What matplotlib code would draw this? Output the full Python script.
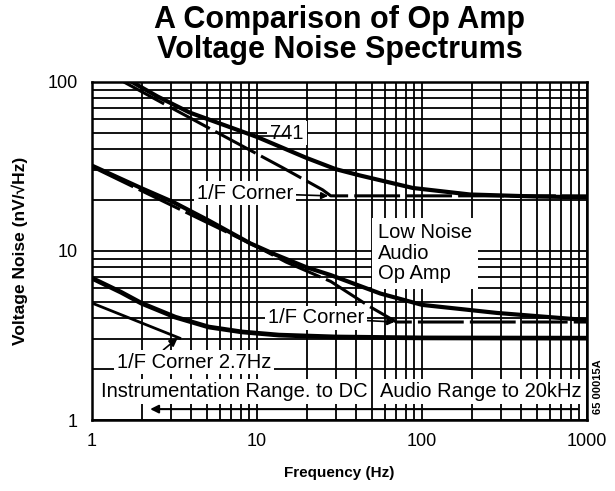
import numpy as np
import matplotlib
matplotlib.use('Agg')
import matplotlib.pyplot as plt
from matplotlib.ticker import FixedLocator, NullFormatter, LogLocator

# values (Hz, nV/rtHz)
f_741 = [1.75, 2.5, 3.9, 6.2, 10, 20, 30, 42, 88, 195, 500, 1000]
v_741 = [100, 82, 66, 56, 47.3, 35.5, 30.5, 28, 23.6, 21.6, 21, 20.8]
f_741_asym = [1.56, 2.97, 14.4, 25, 28, 1000]
v_741_asym = [100, 71, 31, 23, 21.2, 21.2]

f_audio = [1, 2, 3.1, 5, 9.1, 13, 20, 28, 56, 100, 285, 1000]
v_audio = [32, 23.5, 19.5, 15.3, 11.1, 9.5, 8.0, 7.2, 5.6, 4.8, 4.3, 3.9]
f_audio_asym = [1, 10, 15, 28, 48, 70, 1000]
v_audio_asym = [31.5, 10.6, 8.6, 6.6, 4.7, 3.8, 3.8]

f_inst = [1, 1.5, 2, 3.2, 5.1, 8.1, 13.6, 30, 100, 1000]
v_inst = [6.9, 5.7, 4.9, 4.06, 3.55, 3.32, 3.18, 3.1, 3.06, 3.05]
f_inst_asym = [1, 3.4]
v_inst_asym = [4.92, 3.05]

range_f = [2.25, 880]
range_v = 1.16

xticks = [1, 10, 100, 1000]
yticks = [1, 10, 100]

narrow = ['Liberation Sans Narrow', 'Liberation Sans', 'DejaVu Sans']
plain = ['Liberation Sans', 'DejaVu Sans']

fig = plt.figure(figsize=(6.15, 4.91), dpi=100)
ax = fig.add_axes([0.1496, 0.1446, 0.8049, 0.6884])
ax.set_xscale('log')
ax.set_yscale('log')
ax.set_xlim(1, 1000)
ax.set_ylim(1, 100)

ax.xaxis.set_major_locator(FixedLocator(xticks))
ax.yaxis.set_major_locator(FixedLocator(yticks))
ax.xaxis.set_minor_locator(LogLocator(base=10, subs=np.arange(2, 10)))
ax.yaxis.set_minor_locator(LogLocator(base=10, subs=np.arange(2, 10)))
ax.xaxis.set_minor_formatter(NullFormatter())
ax.yaxis.set_minor_formatter(NullFormatter())
ax.set_xticklabels([str(t) for t in xticks], family=narrow, fontsize=13)
ax.set_yticklabels([str(t) for t in yticks], family=narrow, fontsize=13)
ax.tick_params(which='both', length=0)
ax.tick_params(axis='x', pad=9)
ax.tick_params(axis='y', pad=10)
ax.grid(which='both', color='black', lw=1.3)
ax.set_axisbelow(True)
for s in ax.spines.values():
    s.set_linewidth(1.8)

# curves
ax.plot(f_741, v_741, color='black', lw=3, zorder=4)
ax.plot(f_741_asym, v_741_asym, color='black', lw=2.2, dashes=(15, 2), zorder=4)
ax.plot(f_audio, v_audio, color='black', lw=3, zorder=4)
ax.plot(f_audio_asym, v_audio_asym, color='black', lw=2.2, dashes=(15, 2), zorder=4)
ax.plot(f_inst, v_inst, color='black', lw=3.4, zorder=4)
ax.plot(f_inst_asym, v_inst_asym, color='black', lw=2, zorder=4)

box = dict(facecolor='white', edgecolor='none', pad=2)
lab = dict(family=narrow, fontsize=14.5, color='black', zorder=3)

ax.text(15.2, 49.9, '741', ha='center', va='center', bbox=box, **lab)
ax.plot([10.2, 15.2], [48, 48], color='black', lw=1.2, zorder=3)

ax.annotate('1/F Corner', xy=(27, 21.2), xytext=(8.46, 22.0), ha='center', va='center',
            bbox=box, arrowprops=dict(arrowstyle='-|>', color='black', lw=1.2,
                                      mutation_scale=10, shrinkA=0, shrinkB=0), **lab)

ax.text(54.1, 9.67, 'Low Noise\nAudio\nOp Amp', ha='left', va='center',
        linespacing=1.1, bbox=dict(facecolor='white', edgecolor='none', pad=4), **lab)

ax.annotate('1/F Corner', xy=(68, 3.8), xytext=(22.8, 4.02), ha='center', va='center',
            bbox=box, arrowprops=dict(arrowstyle='-|>', color='black', lw=1.2,
                                      mutation_scale=10, shrinkA=0, shrinkB=0), **lab)

ax.annotate('1/F Corner 2.7Hz', xy=(3.3, 3.05), xytext=(4.15, 2.2), ha='center', va='center',
            bbox=box, arrowprops=dict(arrowstyle='-|>', color='black', lw=1.2,
                                      mutation_scale=12, shrinkA=0, shrinkB=0,
                                      relpos=(0.28, 1.0)), **lab)

ax.text(7.31, 1.47, 'Instrumentation Range. to DC', ha='center', va='center', bbox=box, **lab)
ax.text(226, 1.47, 'Audio Range to 20kHz', ha='center', va='center', bbox=box, **lab)
ax.annotate('', xy=(range_f[0], range_v), xytext=(range_f[1], range_v),
            arrowprops=dict(arrowstyle='-|>', color='black', lw=1.5,
                            mutation_scale=12, shrinkA=0, shrinkB=0), zorder=4)

ax.set_xlabel('Frequency (Hz)', family=narrow, fontsize=11, weight='bold', labelpad=12)
ax.set_ylabel('Voltage Noise (nV/\u221aHz)', family=narrow, fontsize=12.5, weight='bold', labelpad=14)

fig.text(0.552, 0.99, 'A Comparison of Op Amp\nVoltage Noise Spectrums', ha='center', va='top',
         family=plain, fontsize=22, weight='bold', linespacing=1.0)
fig.text(0.973, 0.212, '65 00015A', rotation=90, ha='center', va='center',
         family=narrow, fontsize=8, weight='bold')

fig.savefig('out.png', dpi=100)
